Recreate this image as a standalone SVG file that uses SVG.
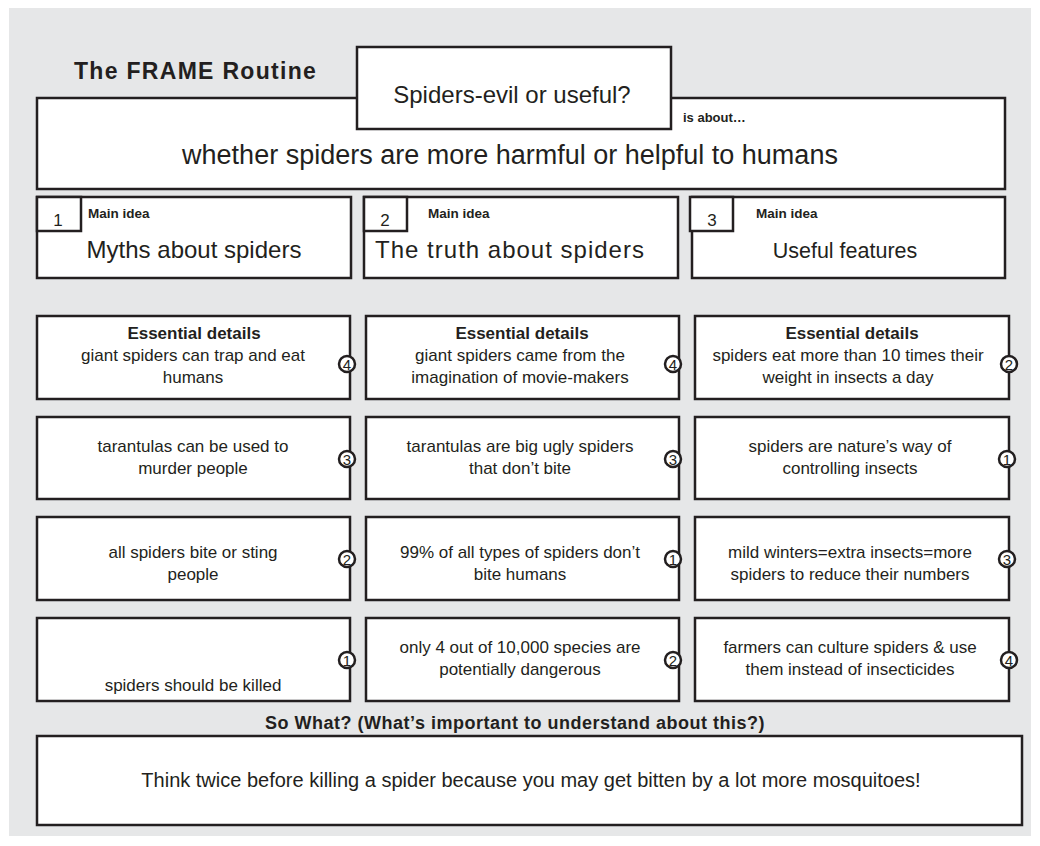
<svg xmlns="http://www.w3.org/2000/svg" width="1040" height="846" viewBox="0 0 1040 846">
<style>
.box{fill:#fff;stroke:#231f20;stroke-width:2.5}
.t{font-family:"Liberation Sans",Arial,sans-serif;fill:#231f20}
.b{font-family:"Liberation Sans",Arial,sans-serif;font-weight:bold;fill:#231f20}
.c{text-anchor:middle}
.det{font-size:17px}
.main{font-size:24px}
.badge{fill:#fff;stroke:#231f20;stroke-width:2.5}
.bn{font-family:"Liberation Sans",Arial,sans-serif;font-size:15px;text-anchor:middle;fill:#231f20}
</style>
<rect x="9" y="8" width="1022" height="828" fill="#e6e7e8"/>
<text class="b" x="74" y="79" font-size="23" letter-spacing="1.3">The FRAME Routine</text>

<g id="topic">
<rect class="box" x="37" y="98" width="968" height="91"/>
<text class="b" x="683" y="122" font-size="13">is about…</text>
<text class="t c" x="510" y="164" font-size="27">whether spiders are more harmful or helpful to humans</text>
</g>
<g id="title">
<rect class="box" x="357" y="47" width="314" height="82"/>
<text class="t c" x="512" y="103" font-size="24">Spiders-evil or useful?</text>
</g>

<g id="main1">
<rect class="box" x="37" y="197" width="314" height="81"/>
<rect class="box" x="37" y="197" width="44" height="34"/>
<text class="t c" x="58" y="226" font-size="17">1</text>
<text class="b" x="88" y="218" font-size="13.5">Main idea</text>
<text class="t c main" x="194" y="258">Myths about spiders</text>
</g>
<g id="main2">
<rect class="box" x="364" y="197" width="314" height="81"/>
<rect class="box" x="364" y="197" width="43" height="34"/>
<text class="t c" x="385" y="226" font-size="17">2</text>
<text class="b" x="428" y="218" font-size="13.5">Main idea</text>
<text class="t c main" x="510" y="258" letter-spacing="1">The truth about spiders</text>
</g>
<g id="main3">
<rect class="box" x="692" y="197" width="313" height="81"/>
<rect class="box" x="690" y="197" width="43" height="34"/>
<text class="t c" x="712" y="226" font-size="17">3</text>
<text class="b" x="756" y="218" font-size="13.5">Main idea</text>
<text class="t c" x="845" y="258" font-size="21.5">Useful features</text>
</g>

<g id="d11">
<rect class="box" x="37" y="316" width="313" height="83"/>
<text class="b c" x="194" y="339" font-size="17">Essential details</text>
<text class="t c det" x="193" y="361">giant spiders can trap and eat</text>
<text class="t c det" x="193" y="383">humans</text>
<circle class="badge" cx="347" cy="364" r="8"/><text class="bn" x="347" y="369.5">4</text>
</g>
<g id="d12">
<rect class="box" x="366" y="316" width="313" height="83"/>
<text class="b c" x="522" y="339" font-size="17">Essential details</text>
<text class="t c det" x="520" y="361">giant spiders came from the</text>
<text class="t c det" x="520" y="383">imagination of movie-makers</text>
<circle class="badge" cx="673" cy="364" r="8"/><text class="bn" x="673" y="369.5">4</text>
</g>
<g id="d13">
<rect class="box" x="695" y="316" width="314" height="83"/>
<text class="b c" x="852" y="339" font-size="17">Essential details</text>
<text class="t c det" x="848" y="361">spiders eat more than 10 times their</text>
<text class="t c det" x="848" y="383">weight in insects a day</text>
<circle class="badge" cx="1009" cy="364" r="8"/><text class="bn" x="1009" y="369.5">2</text>
</g>

<g id="d21">
<rect class="box" x="37" y="417" width="313" height="82"/>
<text class="t c det" x="193" y="452">tarantulas can be used to</text>
<text class="t c det" x="193" y="474">murder people</text>
<circle class="badge" cx="347" cy="459" r="8"/><text class="bn" x="347" y="464.5">3</text>
</g>
<g id="d22">
<rect class="box" x="366" y="417" width="313" height="82"/>
<text class="t c det" x="520" y="452">tarantulas are big ugly spiders</text>
<text class="t c det" x="520" y="474">that don’t bite</text>
<circle class="badge" cx="673" cy="459" r="8"/><text class="bn" x="673" y="464.5">3</text>
</g>
<g id="d23">
<rect class="box" x="695" y="417" width="314" height="82"/>
<text class="t c det" x="850" y="452">spiders are nature’s way of</text>
<text class="t c det" x="850" y="474">controlling insects</text>
<circle class="badge" cx="1007" cy="459" r="8"/><text class="bn" x="1007" y="464.5">1</text>
</g>

<g id="d31">
<rect class="box" x="37" y="517" width="313" height="83"/>
<text class="t c det" x="193" y="558">all spiders bite or sting</text>
<text class="t c det" x="193" y="580">people</text>
<circle class="badge" cx="347" cy="559" r="8"/><text class="bn" x="347" y="564.5">2</text>
</g>
<g id="d32">
<rect class="box" x="366" y="517" width="313" height="83"/>
<text class="t c det" x="520" y="558">99% of all types of spiders don’t</text>
<text class="t c det" x="520" y="580">bite humans</text>
<circle class="badge" cx="673" cy="559" r="8"/><text class="bn" x="673" y="564.5">1</text>
</g>
<g id="d33">
<rect class="box" x="695" y="517" width="314" height="83"/>
<text class="t c det" x="850" y="558">mild winters=extra insects=more</text>
<text class="t c det" x="850" y="580">spiders to reduce their numbers</text>
<circle class="badge" cx="1007" cy="559" r="8"/><text class="bn" x="1007" y="564.5">3</text>
</g>

<g id="d41">
<rect class="box" x="37" y="618" width="313" height="83"/>
<text class="t c det" x="193" y="691">spiders should be killed</text>
<circle class="badge" cx="347" cy="660" r="8"/><text class="bn" x="347" y="665.5">1</text>
</g>
<g id="d42">
<rect class="box" x="366" y="618" width="313" height="83"/>
<text class="t c det" x="520" y="653">only 4 out of 10,000 species are</text>
<text class="t c det" x="520" y="675">potentially dangerous</text>
<circle class="badge" cx="673" cy="660" r="8"/><text class="bn" x="673" y="665.5">2</text>
</g>
<g id="d43">
<rect class="box" x="695" y="618" width="314" height="83"/>
<text class="t c det" x="850" y="653">farmers can culture spiders &amp; use</text>
<text class="t c det" x="850" y="675">them instead of insecticides</text>
<circle class="badge" cx="1009" cy="660" r="8"/><text class="bn" x="1009" y="665.5">4</text>
</g>

<g id="sowhat">
<text class="b c" x="515" y="729" font-size="18" letter-spacing="0.5">So What? (What’s important to understand about this?)</text>
<rect class="box" x="37" y="736" width="985" height="89"/>
<text class="t c" x="531" y="787" font-size="20">Think twice before killing a spider because you may get bitten by a lot more mosquitoes!</text>
</g>
<g id="connectors"/>
</svg>
